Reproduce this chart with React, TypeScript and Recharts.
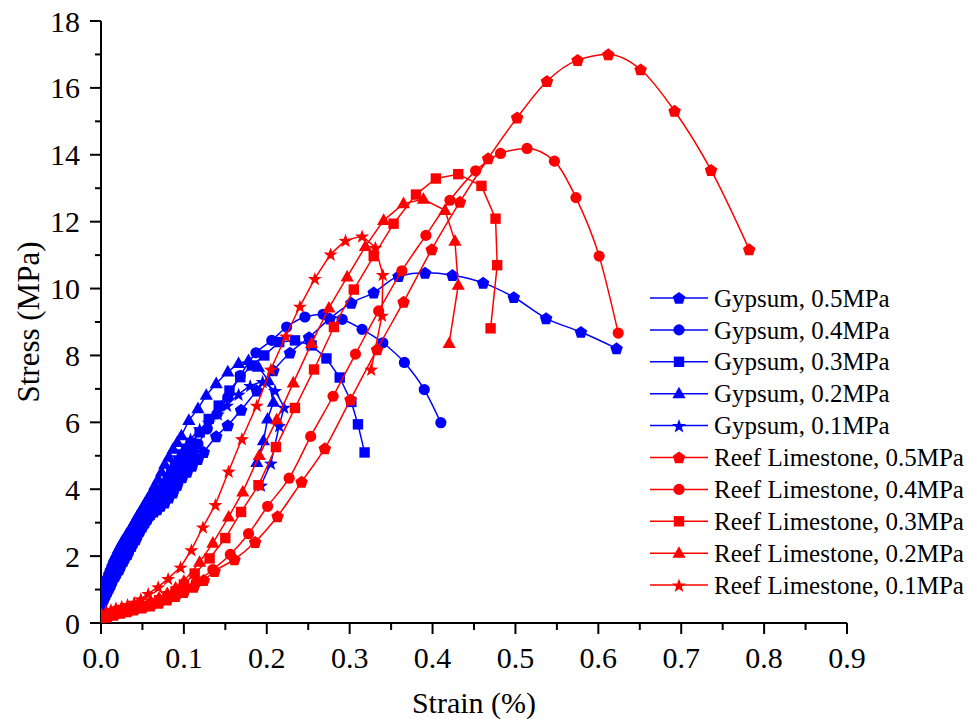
import React from 'react';
import { ScatterChart, Scatter, XAxis, YAxis, Legend } from 'recharts';

type Pt = [number, number];

const FONT = '"Liberation Serif", "Times New Roman", serif';
const BLUE = '#0000FF';
const RED = '#FF0000';

// axis ticks (major + minor)
const xTicks = [0, 0.05, 0.1, 0.15, 0.2, 0.25, 0.3, 0.35, 0.4, 0.45, 0.5, 0.55, 0.6, 0.65, 0.7, 0.75, 0.8, 0.85, 0.9];
const yTicks = [0, 1, 2, 3, 4, 5, 6, 7, 8, 9, 10, 11, 12, 13, 14, 15, 16, 17, 18];

// [strain (%), stress (MPa)]
const gypsum05: Pt[] = [[0,0.5],[0.002,0.62],[0.004,0.75],[0.006,0.85],[0.008,0.95],[0.01,1.05],[0.012,1.15],[0.014,1.27],[0.017,1.4],[0.019,1.5],[0.022,1.6],[0.024,1.72],[0.027,1.85],[0.029,1.95],[0.032,2.05],[0.034,2.18],[0.037,2.3],[0.039,2.4],[0.042,2.5],[0.044,2.62],[0.047,2.75],[0.05,2.88],[0.053,3.0],[0.056,3.12],[0.06,3.25],[0.064,3.33],[0.068,3.4],[0.072,3.5],[0.077,3.6],[0.082,3.75],[0.087,3.9],[0.092,4.12],[0.098,4.35],[0.104,4.52],[0.11,4.7],[0.117,4.9],[0.124,5.11],[0.139,5.58],[0.153,5.91],[0.169,6.37],[0.188,6.95],[0.208,7.55],[0.228,8.08],[0.251,8.54],[0.276,9.1],[0.302,9.57],[0.329,9.88],[0.359,10.37],[0.391,10.47],[0.424,10.4],[0.461,10.17],[0.498,9.74],[0.537,9.11],[0.579,8.7],[0.622,8.21]];
const gypsum04: Pt[] = [[0,0.55],[0.002,0.68],[0.004,0.8],[0.006,0.92],[0.009,1.05],[0.011,1.17],[0.014,1.3],[0.016,1.42],[0.019,1.55],[0.021,1.67],[0.024,1.8],[0.027,1.92],[0.03,2.05],[0.033,2.17],[0.036,2.3],[0.039,2.42],[0.042,2.55],[0.045,2.67],[0.048,2.8],[0.051,2.92],[0.055,3.05],[0.058,3.17],[0.062,3.3],[0.066,3.45],[0.07,3.6],[0.074,3.75],[0.078,3.9],[0.082,4.07],[0.087,4.25],[0.091,4.42],[0.096,4.6],[0.101,4.77],[0.106,4.95],[0.111,5.15],[0.117,5.35],[0.128,5.8],[0.14,6.25],[0.153,6.75],[0.168,7.4],[0.187,8.08],[0.206,8.45],[0.224,8.85],[0.246,9.15],[0.268,9.23],[0.291,9.08],[0.315,8.78],[0.34,8.38],[0.366,7.79],[0.39,6.98],[0.41,5.99]];
const gypsum03: Pt[] = [[0,0.6],[0.002,0.72],[0.004,0.85],[0.006,0.97],[0.008,1.1],[0.01,1.22],[0.012,1.35],[0.014,1.47],[0.017,1.6],[0.019,1.72],[0.022,1.85],[0.024,1.95],[0.027,2.05],[0.03,2.18],[0.033,2.3],[0.036,2.42],[0.039,2.55],[0.042,2.67],[0.045,2.8],[0.048,2.92],[0.051,3.05],[0.054,3.2],[0.058,3.35],[0.061,3.5],[0.065,3.65],[0.069,3.8],[0.073,3.95],[0.077,4.12],[0.081,4.3],[0.085,4.47],[0.09,4.65],[0.094,4.82],[0.099,5.0],[0.104,5.17],[0.109,5.35],[0.119,5.7],[0.13,6.1],[0.142,6.5],[0.155,6.95],[0.168,7.35],[0.182,7.7],[0.197,8.0],[0.215,8.4],[0.234,8.45],[0.254,8.3],[0.272,7.91],[0.288,7.34],[0.302,6.61],[0.31,5.94],[0.318,5.1]];
const gypsum02: Pt[] = [[0,0.85],[0.0015,0.97],[0.003,1.1],[0.0045,1.22],[0.006,1.35],[0.008,1.47],[0.01,1.6],[0.012,1.72],[0.014,1.85],[0.016,1.97],[0.019,2.1],[0.021,2.22],[0.024,2.35],[0.026,2.45],[0.029,2.55],[0.031,2.65],[0.034,2.75],[0.036,2.85],[0.039,2.95],[0.041,3.07],[0.044,3.2],[0.047,3.32],[0.05,3.45],[0.053,3.57],[0.056,3.7],[0.059,3.82],[0.062,3.95],[0.065,4.12],[0.069,4.3],[0.073,4.52],[0.077,4.75],[0.082,4.97],[0.087,5.2],[0.092,5.4],[0.097,5.6],[0.106,6.06],[0.117,6.41],[0.127,6.81],[0.139,7.16],[0.153,7.51],[0.166,7.76],[0.178,7.85],[0.19,7.65],[0.202,7.25],[0.208,6.6],[0.201,6.1],[0.196,5.45],[0.188,4.8]];
const gypsum01: Pt[] = [[0,0.7],[0.002,0.82],[0.004,0.95],[0.006,1.07],[0.008,1.2],[0.01,1.32],[0.012,1.45],[0.014,1.57],[0.017,1.7],[0.019,1.82],[0.022,1.95],[0.024,2.07],[0.027,2.2],[0.029,2.3],[0.032,2.4],[0.035,2.52],[0.038,2.65],[0.041,2.77],[0.044,2.9],[0.047,3.02],[0.05,3.15],[0.053,3.3],[0.057,3.45],[0.06,3.6],[0.064,3.75],[0.068,3.92],[0.072,4.1],[0.076,4.27],[0.08,4.45],[0.084,4.62],[0.089,4.8],[0.093,4.97],[0.098,5.15],[0.103,5.32],[0.108,5.5],[0.119,5.8],[0.13,6.0],[0.141,6.25],[0.152,6.51],[0.166,6.84],[0.18,7.1],[0.195,7.22],[0.21,6.95],[0.221,6.45],[0.215,5.9],[0.205,4.78],[0.193,4.12]];

const reef05: Pt[] = [[0,0.1],[0.008,0.18],[0.016,0.24],[0.024,0.3],[0.032,0.35],[0.04,0.4],[0.05,0.46],[0.06,0.52],[0.07,0.6],[0.08,0.7],[0.09,0.8],[0.1,0.92],[0.112,1.08],[0.124,1.28],[0.137,1.55],[0.161,1.9],[0.186,2.42],[0.213,3.19],[0.242,4.22],[0.27,5.22],[0.301,6.68],[0.333,8.18],[0.365,9.6],[0.399,11.17],[0.433,12.59],[0.467,13.89],[0.502,15.11],[0.538,16.2],[0.575,16.83],[0.612,17.0],[0.651,16.55],[0.692,15.31],[0.736,13.54],[0.782,11.17]];
const reef04: Pt[] = [[0,0.12],[0.008,0.2],[0.016,0.26],[0.024,0.32],[0.032,0.37],[0.04,0.42],[0.05,0.48],[0.06,0.55],[0.07,0.63],[0.08,0.72],[0.09,0.82],[0.1,0.95],[0.115,1.22],[0.135,1.6],[0.156,2.05],[0.178,2.67],[0.201,3.49],[0.227,4.33],[0.253,5.58],[0.28,6.78],[0.307,8.04],[0.335,9.33],[0.363,10.53],[0.392,11.59],[0.421,12.64],[0.452,13.52],[0.482,14.04],[0.514,14.19],[0.547,13.81],[0.573,12.72],[0.601,10.97],[0.624,8.67]];
const reef03: Pt[] = [[0,0.15],[0.008,0.22],[0.016,0.28],[0.024,0.33],[0.032,0.38],[0.04,0.43],[0.05,0.5],[0.06,0.58],[0.07,0.68],[0.08,0.8],[0.09,0.95],[0.1,1.15],[0.113,1.48],[0.131,1.93],[0.15,2.54],[0.169,3.32],[0.19,4.12],[0.211,5.26],[0.234,6.43],[0.257,7.58],[0.281,8.85],[0.305,9.97],[0.329,10.97],[0.353,11.94],[0.38,12.81],[0.404,13.29],[0.431,13.42],[0.459,13.07],[0.476,12.09],[0.478,10.7],[0.47,8.81]];
const reef02: Pt[] = [[0,0.2],[0.008,0.28],[0.016,0.34],[0.024,0.4],[0.032,0.45],[0.04,0.5],[0.05,0.57],[0.06,0.65],[0.07,0.75],[0.08,0.88],[0.09,1.05],[0.1,1.25],[0.119,1.82],[0.135,2.39],[0.154,3.17],[0.171,3.92],[0.191,5.01],[0.212,6.08],[0.232,7.18],[0.254,8.36],[0.275,9.42],[0.297,10.35],[0.319,11.26],[0.341,12.04],[0.365,12.54],[0.389,12.67],[0.415,12.34],[0.427,11.42],[0.431,10.1],[0.42,8.36]];
const reef01: Pt[] = [[0,0.3],[0.006,0.35],[0.012,0.4],[0.018,0.45],[0.025,0.5],[0.032,0.55],[0.04,0.62],[0.048,0.72],[0.057,0.88],[0.069,1.08],[0.081,1.33],[0.096,1.67],[0.109,2.19],[0.123,2.87],[0.138,3.54],[0.154,4.54],[0.17,5.51],[0.188,6.51],[0.205,7.59],[0.223,8.58],[0.24,9.47],[0.258,10.3],[0.277,11.03],[0.295,11.44],[0.315,11.57],[0.331,11.23],[0.34,10.42],[0.339,9.2],[0.326,7.59]];

type ShapeKind = 'pentagon' | 'circle' | 'square' | 'triangle' | 'star';

const SERIES: { name: string; color: string; shape: ShapeKind; data: Pt[]; curve: string }[] = [
  { name: 'Gypsum, 0.5MPa', color: BLUE, shape: 'pentagon', data: gypsum05, curve: 'monotoneX' },
  { name: 'Gypsum, 0.4MPa', color: BLUE, shape: 'circle', data: gypsum04, curve: 'monotoneX' },
  { name: 'Gypsum, 0.3MPa', color: BLUE, shape: 'square', data: gypsum03, curve: 'linear' },
  { name: 'Gypsum, 0.2MPa', color: BLUE, shape: 'triangle', data: gypsum02, curve: 'linear' },
  { name: 'Gypsum, 0.1MPa', color: BLUE, shape: 'star', data: gypsum01, curve: 'linear' },
  { name: 'Reef Limestone, 0.5MPa', color: RED, shape: 'pentagon', data: reef05, curve: 'monotoneX' },
  { name: 'Reef Limestone, 0.4MPa', color: RED, shape: 'circle', data: reef04, curve: 'monotoneX' },
  { name: 'Reef Limestone, 0.3MPa', color: RED, shape: 'square', data: reef03, curve: 'linear' },
  { name: 'Reef Limestone, 0.2MPa', color: RED, shape: 'triangle', data: reef02, curve: 'linear' },
  { name: 'Reef Limestone, 0.1MPa', color: RED, shape: 'star', data: reef01, curve: 'linear' },
];

function polyPoints(cx: number, cy: number, n: number, rOuter: number, rInner?: number) {
  const pts: string[] = [];
  const total = rInner ? n * 2 : n;
  for (let k = 0; k < total; k++) {
    const r = rInner ? (k % 2 === 0 ? rOuter : rInner) : rOuter;
    const a = -Math.PI / 2 + (k * 2 * Math.PI) / total;
    pts.push(`${cx + r * Math.cos(a)},${cy + r * Math.sin(a)}`);
  }
  return pts.join(' ');
}

function Marker({ cx, cy, shape, color }: { cx: number; cy: number; shape: ShapeKind; color: string }) {
  if (cx == null || cy == null || isNaN(cx) || isNaN(cy)) return <g />;
  switch (shape) {
    case 'circle':
      return <circle cx={cx} cy={cy} r={5.6} fill={color} />;
    case 'square':
      return <rect x={cx - 5.2} y={cy - 5.2} width={10.4} height={10.4} fill={color} />;
    case 'triangle':
      return <polygon points={`${cx},${cy - 7} ${cx + 6.6},${cy + 4.6} ${cx - 6.6},${cy + 4.6}`} fill={color} />;
    case 'star':
      return <polygon points={polyPoints(cx, cy + 0.8, 5, 7.4, 3.0)} fill={color} />;
    case 'pentagon':
    default:
      return <polygon points={polyPoints(cx, cy + 0.5, 5, 6.6)} fill={color} />;
  }
}

const XTick = (props: any) => {
  const { x, y, payload } = props;
  const v = payload.value as number;
  const major = Math.abs(v * 10 - Math.round(v * 10)) < 1e-6;
  return (
    <g>
      <line x1={x} x2={x} y1={y} y2={y + (major ? 11 : 7)} stroke="#000" strokeWidth={2} />
      {major && (
        <text x={x} y={y + 44.5} textAnchor="middle" fontSize={30} fontFamily={FONT} fill="#000">
          {v.toFixed(1)}
        </text>
      )}
    </g>
  );
};

const YTick = (props: any) => {
  const { x, y, payload } = props;
  const v = payload.value as number;
  const major = v % 2 === 0;
  return (
    <g>
      <line x1={x} x2={x - (major ? 11 : 6)} y1={y} y2={y} stroke="#000" strokeWidth={2} />
      {major && (
        <text x={x - 21} y={y + 10.5} textAnchor="end" fontSize={30} fontFamily={FONT} fill="#000">
          {String(v)}
        </text>
      )}
    </g>
  );
};

const XLabel = (props: any) => {
  const vb = props.viewBox || { x: 0, y: 0, width: 0, height: 0 };
  return (
    <text x={vb.x + vb.width / 2} y={vb.y + 90} textAnchor="middle" fontSize={30} fontFamily={FONT} fill="#000">
      Strain (%)
    </text>
  );
};

const YLabel = (props: any) => {
  const vb = props.viewBox || { x: 0, y: 0, width: 0, height: 0 };
  const cx = vb.x + 28;
  const cy = vb.y + vb.height / 2;
  return (
    <text
      x={cx}
      y={cy}
      dy="0.34em"
      transform={`rotate(-90, ${cx}, ${cy})`}
      textAnchor="middle"
      fontSize={31}
      fontFamily={FONT}
      fill="#000"
    >
      Stress (MPa)
    </text>
  );
};

const LegendContent = () => {
  const rowH = 31.9;
  return (
    <svg width={330} height={330} style={{ display: 'block', overflow: 'visible' }}>
      {SERIES.map((s, i) => {
        const cy = 16 + i * rowH;
        return (
          <g key={s.name}>
            <line x1={5} x2={63} y1={cy} y2={cy} stroke={s.color} strokeWidth={1.5} />
            <Marker cx={34} cy={cy} shape={s.shape} color={s.color} />
            <text x={69} y={cy + 8.6} fontSize={25} fontFamily={FONT} fill="#000">
              {s.name}
            </text>
          </g>
        );
      })}
    </svg>
  );
};

export default function App() {
  return (
    <div style={{ position: 'absolute', left: 0, top: 0, width: 977, height: 719, background: '#fff' }}>
      <ScatterChart width={977} height={719} margin={{ top: 21, right: 130, bottom: 0, left: 0 }}>
        <XAxis
          type="number"
          dataKey="x"
          domain={[0, 0.9]}
          ticks={xTicks}
          interval={0}
          tickLine={false}
          tickSize={0}
          tickMargin={0}
          tick={<XTick />}
          axisLine={{ stroke: '#000', strokeWidth: 2 }}
          height={96}
          allowDataOverflow
          label={<XLabel />}
        />
        <YAxis
          type="number"
          dataKey="y"
          domain={[0, 18]}
          ticks={yTicks}
          interval={0}
          tickLine={false}
          tickSize={0}
          tickMargin={0}
          tick={<YTick />}
          axisLine={{ stroke: '#000', strokeWidth: 2 }}
          width={101}
          allowDataOverflow
          label={<YLabel />}
        />
        <Legend
          layout="vertical"
          align="center"
          verticalAlign="middle"
          content={<LegendContent />}
          wrapperStyle={{ left: 645, top: 282, width: 330, height: 330 }}
        />
        {SERIES.map((s) => (
          <Scatter
            key={s.name}
            name={s.name}
            data={s.data.map(([x, y]) => ({ x, y }))}
            fill={s.color}
            line={{ stroke: s.color, strokeWidth: 1.5 }}
            lineJointType={s.curve as any}
            isAnimationActive={false}
            shape={(p: any) => <Marker cx={p.cx} cy={p.cy} shape={s.shape} color={s.color} />}
          />
        ))}
      </ScatterChart>
    </div>
  );
}
